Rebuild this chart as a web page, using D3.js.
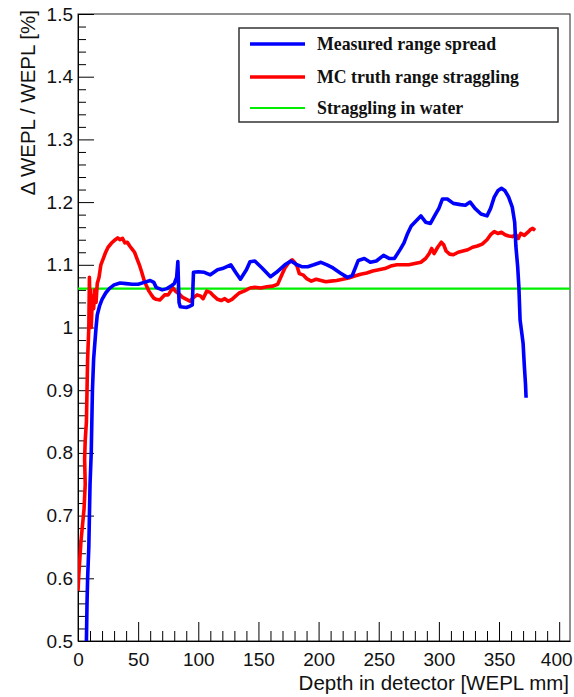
<!DOCTYPE html>
<html><head><meta charset="utf-8">
<script src="https://cdn.jsdelivr.net/npm/d3@7"></script>
<style>body{margin:0;background:#fff}svg{display:block}</style>
</head><body><svg id="c" width="574" height="697"></svg>
<script>
const xMajorTicks=[0,50,100,150,200,250,300,350,400];
const yMajorTicks=[0.5,0.6,0.7,0.8,0.9,1.0,1.1,1.2,1.3,1.4,1.5];
const legendLabels=["Measured range spread","MC truth range straggling","Straggling in water"];
const waterStraggling=1.062;
const measuredX=[7,7.5,8,9,9.5,10,11,11.5,12,13,15,16,18,20,23,26,30,35,40,45,50,55,60,63,65,70,74,78,80,82,83,84,85,90,93,95,96,100,105,110,116,120,127,131,135,140,143,147,153,160,165,172,177,182,186,191,196,202,207,212,218,224,228,233,238,243,248,254,259,263,268,271,274,277,281,285,289,293,297,300,303,307,312,318,322,326,330,335,340,343,346,349,352,355,358,361,363,364,365.5,366.5,367.5,369,370,371,372,372.5];
const measuredY=[0.5,0.56,0.6,0.65,0.7,0.75,0.8,0.85,0.9,0.95,1.0,1.02,1.035,1.045,1.055,1.062,1.068,1.071,1.07,1.069,1.069,1.072,1.075,1.072,1.064,1.06,1.062,1.067,1.07,1.08,1.105,1.04,1.033,1.032,1.034,1.036,1.088,1.089,1.088,1.084,1.092,1.094,1.1,1.088,1.077,1.092,1.105,1.106,1.095,1.081,1.088,1.1,1.106,1.1,1.097,1.097,1.1,1.104,1.1,1.095,1.087,1.08,1.083,1.107,1.11,1.104,1.106,1.115,1.11,1.11,1.125,1.135,1.15,1.162,1.17,1.178,1.168,1.166,1.18,1.19,1.205,1.205,1.198,1.196,1.195,1.2,1.19,1.181,1.178,1.19,1.208,1.218,1.222,1.218,1.208,1.192,1.168,1.13,1.097,1.065,1.012,0.99,0.975,0.94,0.91,0.888];
const mcX=[0,0.5,1.5,2.5,3.5,5,6,5.5,6,7,7.5,8,9,9.5,10,10.5,11,12,13,14,15,16,17.5,19,21,23,25,28,31,33,35,37,39,41,43,45,47,49,51,53,55,57,59,61,63,65,68,70,72,75,77,79,81,83,85,87,89,91,93,96,99,102,104,107,110,113,116,119,122,125,128,131,134,138,140,143,147,152,157,162,166,169,172,175,178,180,182,184,187,190,194,198,202,206,210,215,220,225,230,235,240,245,250,255,260,265,270,275,280,285,289,292,294,296,299,302,304,306,309,312,316,320,324,328,332,336,340,343,346,349,352,355,358,361,364,366,368,371,374,376,378,380];
const mcY=[0.58,0.6,0.63,0.66,0.68,0.71,0.75,0.79,0.82,0.85,0.9,0.95,1.0,1.08,1.02,1.06,1.0,1.05,1.03,1.06,1.04,1.07,1.08,1.1,1.11,1.12,1.128,1.135,1.14,1.143,1.14,1.142,1.135,1.136,1.13,1.125,1.12,1.11,1.1,1.088,1.075,1.066,1.058,1.052,1.047,1.045,1.044,1.048,1.052,1.052,1.058,1.063,1.058,1.055,1.052,1.048,1.046,1.044,1.042,1.048,1.052,1.05,1.046,1.058,1.056,1.05,1.045,1.043,1.046,1.042,1.045,1.05,1.055,1.058,1.06,1.063,1.064,1.063,1.065,1.066,1.069,1.082,1.095,1.103,1.108,1.104,1.098,1.086,1.084,1.078,1.074,1.077,1.075,1.073,1.074,1.075,1.077,1.079,1.082,1.085,1.087,1.09,1.092,1.094,1.098,1.1,1.1,1.1,1.102,1.104,1.11,1.118,1.126,1.118,1.128,1.136,1.132,1.122,1.117,1.116,1.12,1.122,1.124,1.128,1.13,1.133,1.14,1.148,1.153,1.15,1.152,1.148,1.146,1.145,1.148,1.142,1.15,1.147,1.152,1.156,1.158,1.155];

const svg=d3.select("#c");
const L=78,R=570,T=14,B=641;
const x=d3.scaleLinear().domain([0,409]).range([L,R]);
const y=d3.scaleLinear().domain([0.5,1.5]).range([B,T]);
const sans="'Liberation Sans',Arial,Helvetica,sans-serif";

svg.append("rect").attr("x",L).attr("y",T).attr("width",R-L).attr("height",B-T)
  .attr("fill","none").attr("stroke","#222").attr("stroke-width",1);

const xMinor=d3.range(0,401,10).filter(v=>v%50!==0);
const yMinor=d3.range(50,151,2).map(v=>v/100).filter(v=>Math.round(v*100)%10!==0);
svg.append("g").attr("transform",`translate(0,${B})`)
  .call(d3.axisBottom(x).tickValues(xMinor).tickSize(-10).tickSizeOuter(0).tickFormat(""))
  .call(g=>g.select(".domain").remove());
svg.append("g").attr("transform",`translate(${L},0)`)
  .call(d3.axisLeft(y).tickValues(yMinor).tickSize(-8).tickSizeOuter(0).tickFormat(""))
  .call(g=>g.select(".domain").remove());
const gx=svg.append("g").attr("transform",`translate(0,${B})`)
  .call(d3.axisBottom(x).tickValues(xMajorTicks).tickSize(-19).tickSizeOuter(0).tickPadding(12).tickFormat(d3.format("d")));
svg.append("g").attr("transform",`translate(${L},0)`)
  .call(d3.axisLeft(y).tickValues(yMajorTicks).tickSize(-16).tickSizeOuter(0).tickPadding(5)
    .tickFormat(d=>Math.abs(d-1)<1e-9?"1":d3.format(".1f")(d)));
svg.selectAll(".tick line,.domain").attr("stroke","#000");
svg.selectAll(".tick text").attr("font-family",sans).attr("font-size",19).attr("fill","#111");
gx.selectAll(".tick text").filter(d=>d===400).attr("dx",-3);

svg.append("text").attr("x",R-1).attr("y",690).attr("text-anchor","end")
  .attr("font-family",sans).attr("font-size",20.5).attr("fill","#111").text("Depth in detector [WEPL mm]");
svg.append("text").attr("transform","translate(35,10) rotate(-90)").attr("text-anchor","end")
  .attr("font-family",sans).attr("font-size",20.5).attr("fill","#111").text("Δ WEPL / WEPL [%]");

svg.append("clipPath").attr("id","clip").append("rect").attr("x",L).attr("y",T).attr("width",R-L).attr("height",B-T);
const plot=svg.append("g").attr("clip-path","url(#clip)");
plot.append("line").attr("x1",x(0)).attr("x2",x(409)).attr("y1",y(waterStraggling)).attr("y2",y(waterStraggling))
  .attr("stroke","#00ee00").attr("stroke-width",2.2);
const line=d3.line().x(d=>x(d[0])).y(d=>y(d[1]));
plot.append("path").datum(mcX.map((v,i)=>[v,mcY[i]])).attr("d",line).attr("fill","none")
  .attr("stroke","#ff0000").attr("stroke-width",3.6).attr("stroke-linejoin","round");
plot.append("path").datum(measuredX.map((v,i)=>[v,measuredY[i]])).attr("d",line).attr("fill","none")
  .attr("stroke","#0000ff").attr("stroke-width",3.6).attr("stroke-linejoin","round");

const lg=svg.append("g");
lg.append("rect").attr("x",239).attr("y",28).attr("width",319).attr("height",94)
  .attr("fill","#fff").attr("stroke","#333").attr("stroke-width",1.5);
const cols=["#0000ff","#ff0000","#00ee00"],ws=[3.6,3.6,2.2],ys=[44,77,108];
legendLabels.forEach((t,i)=>{
  lg.append("line").attr("x1",250).attr("x2",305).attr("y1",ys[i]).attr("y2",ys[i]).attr("stroke",cols[i]).attr("stroke-width",ws[i]);
  lg.append("text").attr("x",317).attr("y",ys[i]).attr("dy","0.35em").attr("font-family","'Liberation Serif','Times New Roman',serif")
    .attr("font-weight","bold").attr("font-size",17.8).attr("fill","#111").text(t);
});
</script></body></html>
